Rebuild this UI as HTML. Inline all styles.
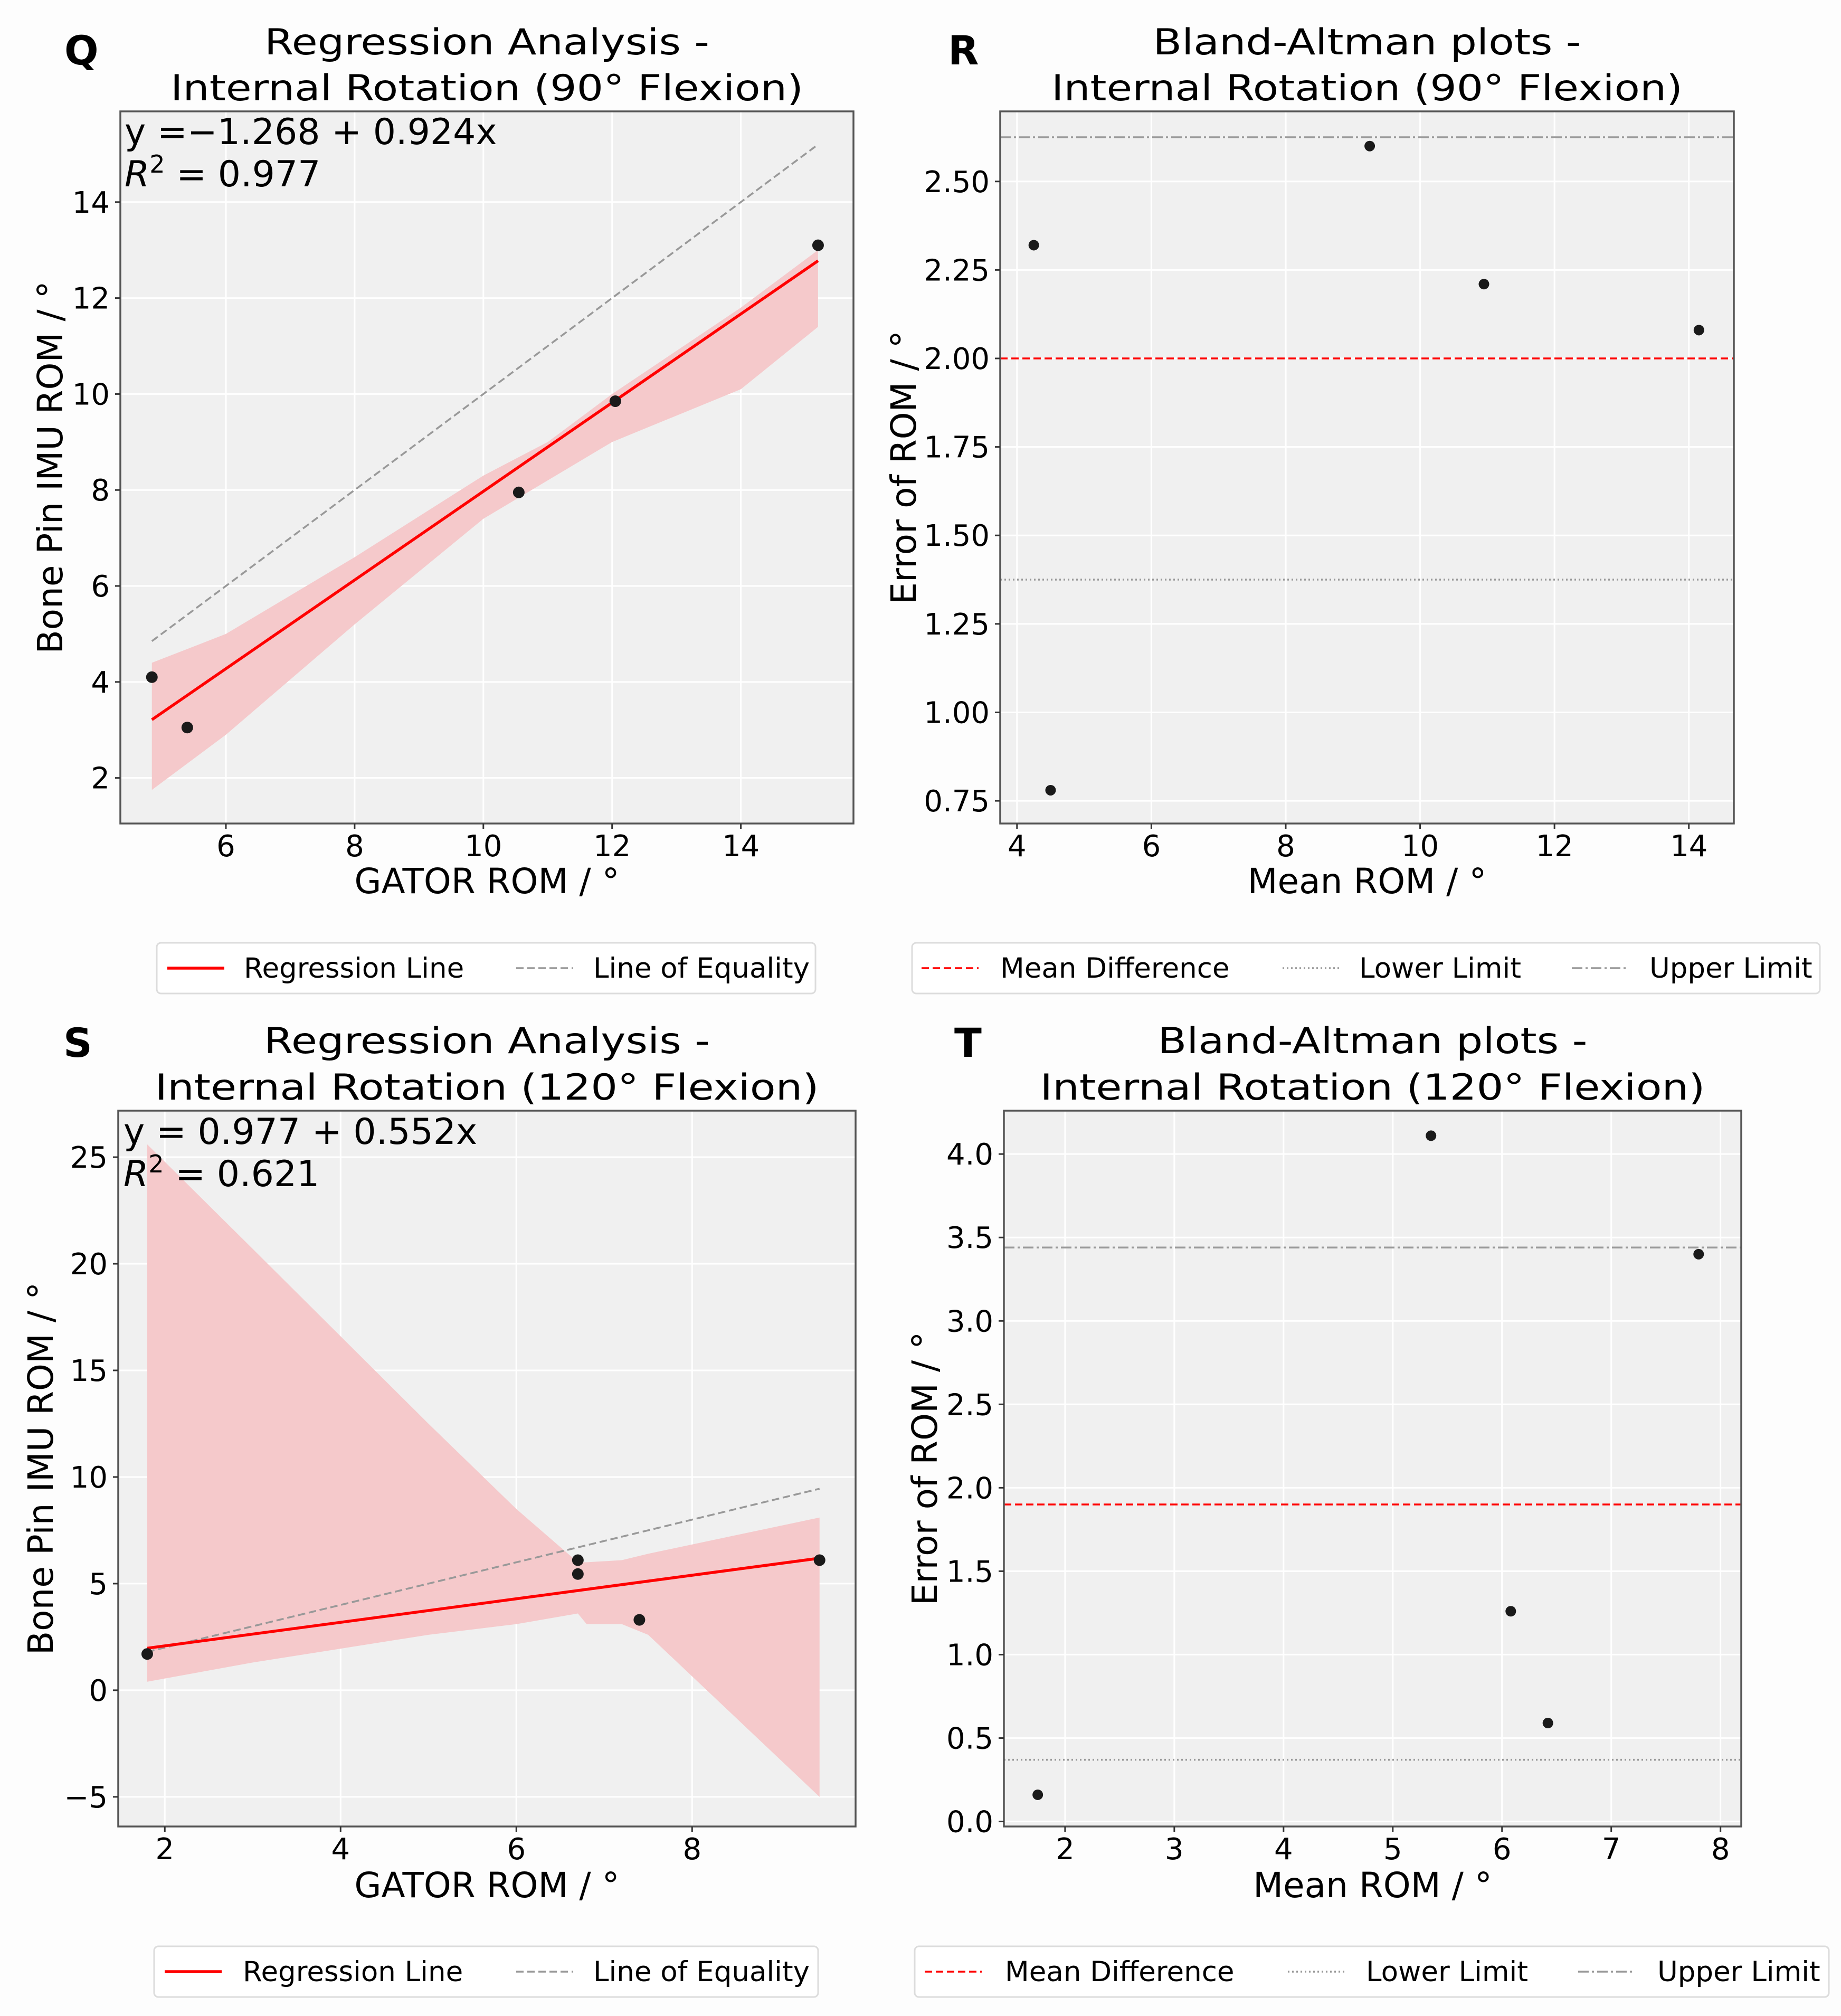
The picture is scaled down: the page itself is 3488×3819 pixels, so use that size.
<!DOCTYPE html>
<html><head><meta charset="utf-8"><style>
html,body{margin:0;padding:0;background:#fff}
svg{display:block}
text{font-family:"DejaVu Sans","Liberation Sans",sans-serif;fill:#000}
</style></head><body>
<svg id="fig" width="3488" height="3819" viewBox="0 0 3488 3819" xmlns="http://www.w3.org/2000/svg">
<rect x="0" y="0" width="3488" height="3819" fill="#fdfdfd"/>
</svg>
<script>
// ---- Panel Q data ----
const qX = [4.85, 5.4, 10.55, 12.05, 15.2];
const qY = [4.1, 3.05, 7.95, 9.85, 13.1];
const qIntercept = -1.268, qSlope = 0.924;
const qCiX = [4.85, 6, 8, 10, 11, 12, 14, 15.2];
const qCiHigh = [4.4, 5.0, 6.6, 8.3, 9.0, 10.0, 11.8, 13.0];
const qCiLow = [1.75, 2.9, 5.2, 7.4, 8.2, 9.0, 10.1, 11.4];
const qXTicks = [6, 8, 10, 12, 14];
const qYTicks = [2, 4, 6, 8, 10, 12, 14];
// ---- Panel R data ----
const rX = [4.25, 4.5, 9.25, 10.95, 14.15];
const rY = [2.32, 0.78, 2.6, 2.21, 2.08];
const rMean = 2.0, rLower = 1.375, rUpper = 2.625;
const rXTicks = [4, 6, 8, 10, 12, 14];
const rYTicks = [0.75, 1.00, 1.25, 1.50, 1.75, 2.00, 2.25, 2.50];
// ---- Panel S data ----
const sX = [1.8, 6.7, 6.7, 7.4, 9.45];
const sY = [1.7, 6.1, 5.45, 3.3, 6.1];
const sIntercept = 0.977, sSlope = 0.552;
const sCiX = [1.8, 3, 5, 6.0, 6.7, 6.8, 7.2, 7.5, 9.45];
const sCiHigh = [25.6, 20.7, 12.5, 8.5, 6.0, 6.0, 6.1, 6.4, 8.1];
const sCiLow = [0.4, 1.3, 2.6, 3.1, 3.6, 3.1, 3.1, 2.6, -5.0];
const sXTicks = [2, 4, 6, 8];
const sYTicks = [-5, 0, 5, 10, 15, 20, 25];
// ---- Panel T data ----
const tX = [1.75, 5.35, 6.08, 6.42, 7.8];
const tY = [0.16, 4.11, 1.26, 0.59, 3.4];
const tMean = 1.9, tLower = 0.37, tUpper = 3.44;
const tXTicks = [2, 3, 4, 5, 6, 7, 8];
const tYTicks = [0.0, 0.5, 1.0, 1.5, 2.0, 2.5, 3.0, 3.5, 4.0];

const NS = "http://www.w3.org/2000/svg";
const svg = document.getElementById('fig');
function mk(tag, attrs, parent) {
  const e = document.createElementNS(NS, tag);
  for (const k in attrs) e.setAttribute(k, attrs[k]);
  (parent || svg).appendChild(e);
  return e;
}
function txt(s, attrs, parent) { const e = mk('text', attrs, parent); e.textContent = s; return e; }

function makeAxes(p) {
  const g = mk('g', {});
  
  
  const sx = v => p.L + (v - p.x0) / (p.x1 - p.x0) * (p.R - p.L);
  const sy = v => p.B - (v - p.y0) / (p.y1 - p.y0) * (p.B - p.T);
  const bg = mk('rect', {x: p.L, y: p.T, width: p.R - p.L, height: p.B - p.T, fill: '#f0f0f0'}, g);
  
  
  p.xt.forEach(v => {
    const l = mk('line', {x1: sx(v), x2: sx(v), y1: p.T, y2: p.B, stroke: '#ffffff', 'stroke-width': 3}, g);
    
    
  });
  p.yt.forEach(v => {
    const l = mk('line', {x1: p.L, x2: p.R, y1: sy(v), y2: sy(v), stroke: '#ffffff', 'stroke-width': 3}, g);
    
    
  });
  return {g, sx, sy};
}
function finishAxes(p, a) {
  const g = a.g;
  const fr = mk('rect', {x: p.L, y: p.T, width: p.R - p.L, height: p.B - p.T, fill: 'none', stroke: '#555', 'stroke-width': 3.5}, g);
  
  
  p.xt.forEach(v => {
    mk('line', {x1: a.sx(v), x2: a.sx(v), y1: p.B, y2: p.B + 10, stroke: '#333', 'stroke-width': 3}, g);
    const t = txt(String(v), {x: a.sx(v), y: p.B + 62, 'font-size': 56, 'text-anchor': 'middle'}, g);
    
    
  });
  p.yt.forEach(v => {
    mk('line', {x1: p.L - 10, x2: p.L, y1: a.sy(v), y2: a.sy(v), stroke: '#333', 'stroke-width': 3}, g);
    const s = p.fmt ? p.fmt(v) : String(v).replace('-', '\u2212');
    const t = txt(s, {x: p.L - 20, y: a.sy(v) + 20, 'font-size': 56, 'text-anchor': 'end'}, g);
    
    
  });
  const xl = txt(p.xlabel, {x: (p.L + p.R) / 2, y: p.xlY, 'font-size': 66, 'text-anchor': 'middle'}, g);
  
  
  const yl = txt(p.ylabel, {x: 0, y: 0, 'font-size': 66, 'text-anchor': 'middle', transform: `translate(${p.ylX},${(p.T + p.B) / 2}) rotate(-90)`}, g);
  
  
  const t1 = txt(p.title1, {x: (p.L + p.R) / 2, y: p.tY1, 'font-size': 68, 'text-anchor': 'middle', textLength: p.tw1, lengthAdjust: 'spacingAndGlyphs'}, g);
  
  
  const t2 = txt(p.title2, {x: (p.L + p.R) / 2, y: p.tY2, 'font-size': 68, 'text-anchor': 'middle', textLength: p.tw2, lengthAdjust: 'spacingAndGlyphs'}, g);
  
  
  const lt = txt(p.letter, {x: p.letX, y: p.letY, 'font-size': 76, 'font-weight': 'bold'}, g);
  
  
}
const p_dot = '#1a1a1a';
function points(a, xs, ys, g, r) {
  xs.forEach((x, i) => {
    const c = mk('circle', {cx: a.sx(x), cy: a.sy(ys[i]), r: r, fill: p_dot}, g);
    
    
  });
}
function band(a, xs, lo, hi, g) {
  let d = '';
  xs.forEach((x, i) => { d += (i ? 'L' : 'M') + a.sx(x) + ',' + a.sy(hi[i]); });
  for (let i = xs.length - 1; i >= 0; i--) d += 'L' + a.sx(xs[i]) + ',' + a.sy(lo[i]);
  const b = mk('path', {d: d + 'Z', fill: '#f4c6c8', opacity: 0.95}, g);
  
  
}
function legend(x, y, w, items, name) {
  const g = mk('g', {});
  
  
  mk('rect', {x: x, y: y, width: w, height: 96, rx: 8, fill: '#fff', stroke: '#dcdcdc', 'stroke-width': 3}, g);
  items.forEach(it => {
    const e = mk('g', {}, g);
    
    
    mk('line', {x1: it.lx, x2: it.lx + 108, y1: y + 48, y2: y + 48, stroke: it.color, 'stroke-width': it.sw, 'stroke-dasharray': it.dash || 'none'}, e);
    txt(it.label, {x: it.tx, y: y + 66, 'font-size': 53}, e);
  });
}

// ===== Panel Q =====
const PQ = {name: 'regression-chart-q', L: 228, R: 1617, T: 211, B: 1560, x0: 4.36, x1: 15.75, y0: 1.05, y1: 15.89,
  xt: qXTicks, yt: qYTicks, xlabel: 'GATOR ROM / °', ylabel: 'Bone Pin IMU ROM / °', xlY: 1692, ylX: 118,
  title1: 'Regression Analysis -', title2: 'Internal Rotation (90° Flexion)', tY1: 103, tY2: 190, tw1: 843, tw2: 1199,
  letter: 'Q', letX: 122, letY: 122};
const aQ = makeAxes(PQ);
band(aQ, qCiX, qCiLow, qCiHigh, aQ.g);
{ const x0 = qX[0], x1 = qX[qX.length - 1];
  const eq = mk('line', {x1: aQ.sx(x0), y1: aQ.sy(x0), x2: aQ.sx(x1), y2: aQ.sy(x1), stroke: '#999', 'stroke-width': 3.5, 'stroke-dasharray': '14 7'}, aQ.g);
   
  const rl = mk('line', {x1: aQ.sx(x0), y1: aQ.sy(qIntercept + qSlope * x0), x2: aQ.sx(x1), y2: aQ.sy(qIntercept + qSlope * x1), stroke: '#ff0000', 'stroke-width': 5.5}, aQ.g);
    }
points(aQ, qX, qY, aQ.g, 11);
{ const t = txt('y =\u22121.268 + 0.924x', {x: 236, y: 273, 'font-size': 68}, aQ.g);
   
  const r = txt('', {x: 236, y: 353, 'font-size': 68}, aQ.g);
  r.innerHTML = '<tspan font-style="italic">R</tspan><tspan dy="-26" font-size="46">2</tspan><tspan dy="26"> = 0.977</tspan>';
    }
finishAxes(PQ, aQ);

// ===== Panel R =====
const PR = {name: 'bland-altman-chart-r', L: 1895, R: 3285, T: 211, B: 1560, x0: 3.75, x1: 14.67, y0: 0.686, y1: 2.698,
  xt: rXTicks, yt: rYTicks, fmt: v => v.toFixed(2), xlabel: 'Mean ROM / °', ylabel: 'Error of ROM / °', xlY: 1692, ylX: 1735,
  title1: 'Bland-Altman plots -', title2: 'Internal Rotation (90° Flexion)', tY1: 103, tY2: 190, tw1: 811, tw2: 1196,
  letter: 'R', letX: 1796, letY: 122};
const aR = makeAxes(PR);
[[rMean, '#ff0000', '14 7', 'mean-difference-line'], [rLower, '#999', '3 5', 'lower-limit-line'], [rUpper, '#999', '20 6 4 6', 'upper-limit-line']].forEach(d => {
  const l = mk('line', {x1: PR.L, x2: PR.R, y1: aR.sy(d[0]), y2: aR.sy(d[0]), stroke: d[1], 'stroke-width': 3.5, 'stroke-dasharray': d[2]}, aR.g);
   
});
points(aR, rX, rY, aR.g, 10);
finishAxes(PR, aR);

// ===== Panel S =====
const PS = {name: 'regression-chart-s', L: 224, R: 1621, T: 2104, B: 3460, x0: 1.47, x1: 9.86, y0: -6.39, y1: 27.18,
  xt: sXTicks, yt: sYTicks, xlabel: 'GATOR ROM / °', ylabel: 'Bone Pin IMU ROM / °', xlY: 3594, ylX: 100,
  title1: 'Regression Analysis -', title2: 'Internal Rotation (120° Flexion)', tY1: 1995, tY2: 2083, tw1: 845, tw2: 1258,
  letter: 'S', letX: 120, letY: 2002};
const aS = makeAxes(PS);
band(aS, sCiX, sCiLow, sCiHigh, aS.g);
{ const x0 = sX[0], x1 = sX[sX.length - 1];
  const eq = mk('line', {x1: aS.sx(x0), y1: aS.sy(x0), x2: aS.sx(x1), y2: aS.sy(x1), stroke: '#999', 'stroke-width': 3.5, 'stroke-dasharray': '14 7'}, aS.g);
   
  const rl = mk('line', {x1: aS.sx(x0), y1: aS.sy(sIntercept + sSlope * x0), x2: aS.sx(x1), y2: aS.sy(sIntercept + sSlope * x1), stroke: '#ff0000', 'stroke-width': 5.5}, aS.g);
    }
points(aS, sX, sY, aS.g, 11);
{ const t = txt('y = 0.977 + 0.552x', {x: 234, y: 2167, 'font-size': 68}, aS.g);
   
  const r = txt('', {x: 234, y: 2247, 'font-size': 68}, aS.g);
  r.innerHTML = '<tspan font-style="italic">R</tspan><tspan dy="-26" font-size="46">2</tspan><tspan dy="26"> = 0.621</tspan>';
    }
finishAxes(PS, aS);

// ===== Panel T =====
const PT = {name: 'bland-altman-chart-t', L: 1902, R: 3299, T: 2104, B: 3460, x0: 1.44, x1: 8.19, y0: -0.03, y1: 4.26,
  xt: tXTicks, yt: tYTicks, fmt: v => v.toFixed(1), xlabel: 'Mean ROM / °', ylabel: 'Error of ROM / °', xlY: 3594, ylX: 1775,
  title1: 'Bland-Altman plots -', title2: 'Internal Rotation (120° Flexion)', tY1: 1995, tY2: 2083, tw1: 814, tw2: 1260,
  letter: 'T', letX: 1808, letY: 2002};
const aT = makeAxes(PT);
[[tMean, '#ff0000', '14 7', 'mean-difference-line'], [tLower, '#999', '3 5', 'lower-limit-line'], [tUpper, '#999', '20 6 4 6', 'upper-limit-line']].forEach(d => {
  const l = mk('line', {x1: PT.L, x2: PT.R, y1: aT.sy(d[0]), y2: aT.sy(d[0]), stroke: d[1], 'stroke-width': 3.5, 'stroke-dasharray': d[2]}, aT.g);
   
});
points(aT, tX, tY, aT.g, 10);
finishAxes(PT, aT);

// ===== Legends =====
legend(297, 1786, 1248, [
  {lx: 317, tx: 462, label: 'Regression Line', color: '#ff0000', sw: 5.5},
  {lx: 978, tx: 1124, label: 'Line of Equality', color: '#999', sw: 3.5, dash: '14 7'}], 'legend-q');
legend(1728, 1786, 1720, [
  {lx: 1746, tx: 1895, label: 'Mean Difference', color: '#ff0000', sw: 3.5, dash: '14 7'},
  {lx: 2430, tx: 2575, label: 'Lower Limit', color: '#999', sw: 3.5, dash: '3 5'},
  {lx: 2978, tx: 3125, label: 'Upper Limit', color: '#999', sw: 3.5, dash: '20 6 4 6'}], 'legend-r');
legend(292, 3687, 1258, [
  {lx: 312, tx: 460, label: 'Regression Line', color: '#ff0000', sw: 5.5},
  {lx: 978, tx: 1124, label: 'Line of Equality', color: '#999', sw: 3.5, dash: '14 7'}], 'legend-s');
legend(1733, 3687, 1732, [
  {lx: 1752, tx: 1904, label: 'Mean Difference', color: '#ff0000', sw: 3.5, dash: '14 7'},
  {lx: 2440, tx: 2588, label: 'Lower Limit', color: '#999', sw: 3.5, dash: '3 5'},
  {lx: 2990, tx: 3140, label: 'Upper Limit', color: '#999', sw: 3.5, dash: '20 6 4 6'}], 'legend-t');
</script>
</body></html>
